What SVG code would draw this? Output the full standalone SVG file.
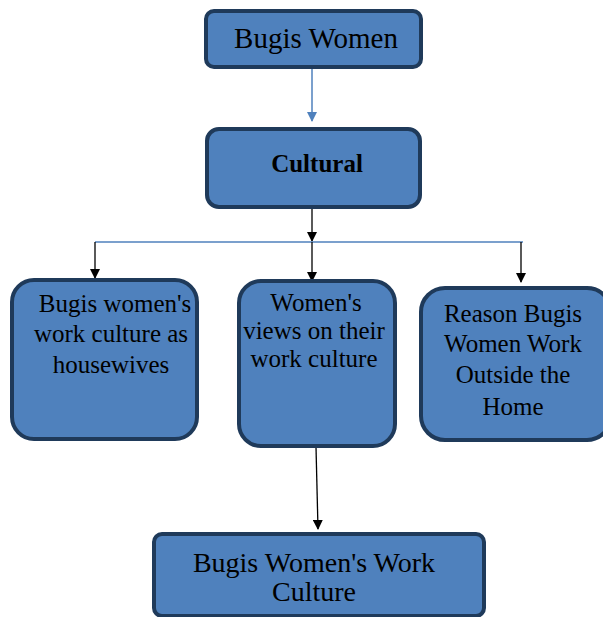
<svg xmlns="http://www.w3.org/2000/svg" width="603" height="617" viewBox="0 0 603 617">
<style>
.box{fill:#4f81bd;stroke:#1f3a5a;stroke-width:4}
.t{font-family:"Liberation Serif","Times New Roman",serif;fill:#000;text-anchor:middle}
.blk{stroke:#000;stroke-width:1.3;fill:none}
.blu{stroke:#4f81bd;stroke-width:1.5;fill:none}
</style>
<defs>
<marker id="ab" markerWidth="10" markerHeight="10" refX="9" refY="5" orient="auto" markerUnits="userSpaceOnUse"><path d="M0,0 L10,5 L0,10 z" fill="#000"/></marker>
<marker id="abl" markerWidth="10" markerHeight="10" refX="9" refY="5" orient="auto" markerUnits="userSpaceOnUse"><path d="M0,0 L10,5 L0,10 z" fill="#4f81bd"/></marker>
</defs>
<g id="connectors">
<line class="blu" x1="312" y1="67" x2="312" y2="121" marker-end="url(#abl)"/>
<line class="blk" x1="312" y1="207" x2="312" y2="241" marker-end="url(#ab)"/>
<line class="blu" x1="95" y1="242" x2="523" y2="242"/>
<line class="blk" x1="95" y1="242" x2="95" y2="278" marker-end="url(#ab)"/>
<line class="blk" x1="312" y1="242" x2="312" y2="281" marker-end="url(#ab)"/>
<line class="blk" x1="521" y1="242" x2="521" y2="282" marker-end="url(#ab)"/>
<line class="blk" x1="316" y1="447" x2="318" y2="529" marker-end="url(#ab)"/>
</g>
<g id="n1">
<rect class="box" x="206" y="11" width="215" height="56" rx="8"/>
<text class="t" x="316" y="48" font-size="29">Bugis Women</text>
</g>
<g id="n2">
<rect class="box" x="207" y="129" width="213" height="78" rx="12"/>
<text class="t" x="317" y="172" font-size="25" font-weight="bold">Cultural</text>
</g>
<g id="n3">
<rect class="box" x="12" y="280" width="185" height="159" rx="22"/>
<text class="t" font-size="25"><tspan x="115" y="312">Bugis women's</tspan><tspan x="111" y="342">work culture as</tspan><tspan x="111" y="373">housewives</tspan></text>
</g>
<g id="n4">
<rect class="box" x="239" y="281" width="156" height="165" rx="22"/>
<text class="t" font-size="25"><tspan x="316" y="311">Women's</tspan><tspan x="314" y="339">views on their</tspan><tspan x="314" y="367">work culture</tspan></text>
</g>
<g id="n5">
<rect class="box" x="421" y="288" width="190" height="152" rx="24"/>
<text class="t" font-size="25"><tspan x="513" y="322">Reason Bugis</tspan><tspan x="513" y="352">Women Work</tspan><tspan x="513" y="383">Outside the</tspan><tspan x="513" y="415">Home</tspan></text>
</g>
<g id="n6">
<rect class="box" x="154" y="534" width="330" height="82" rx="8"/>
<text class="t" font-size="28"><tspan x="314" y="572">Bugis Women's Work</tspan><tspan x="314" y="601">Culture</tspan></text>
</g>
</svg>
